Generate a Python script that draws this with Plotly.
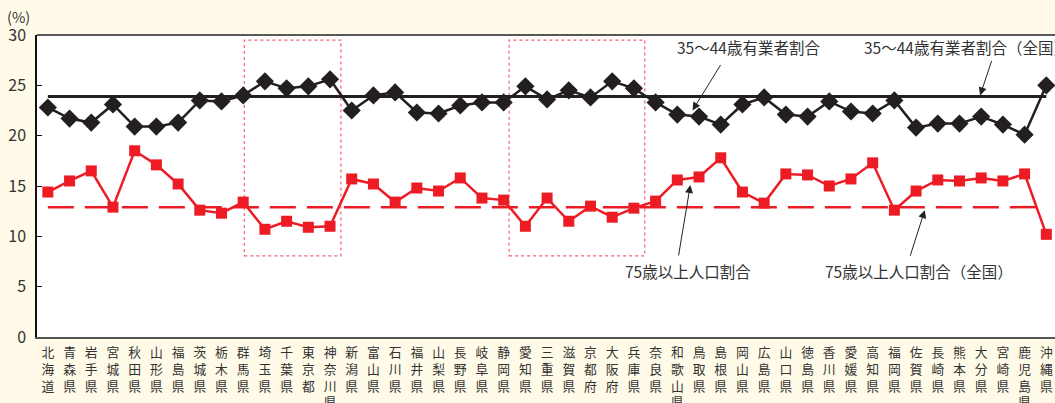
import plotly.graph_objects as go

prefectures = ["北海道","青森県","岩手県","宮城県","秋田県","山形県","福島県","茨城県","栃木県","群馬県",
               "埼玉県","千葉県","東京都","神奈川県","新潟県","富山県","石川県","福井県","山梨県","長野県",
               "岐阜県","静岡県","愛知県","三重県","滋賀県","京都府","大阪府","兵庫県","奈良県","和歌山県",
               "鳥取県","島根県","岡山県","広島県","山口県","徳島県","香川県","愛媛県","高知県","福岡県",
               "佐賀県","長崎県","熊本県","大分県","宮崎県","鹿児島県","沖縄県"]

workers_35_44 = [22.8,21.7,21.3,23.1,20.9,20.9,21.3,23.5,23.4,24.0,
                 25.4,24.7,24.9,25.6,22.5,24.0,24.3,22.3,22.2,23.0,
                 23.3,23.3,24.9,23.6,24.5,23.8,25.4,24.7,23.3,22.1,
                 21.9,21.1,23.1,23.8,22.1,21.9,23.4,22.4,22.2,23.5,
                 20.8,21.2,21.2,21.9,21.1,20.1,25.0]

aged_75 = [14.4,15.5,16.5,12.9,18.5,17.1,15.2,12.6,12.3,13.4,
           10.7,11.5,10.9,11.0,15.7,15.2,13.4,14.8,14.5,15.8,
           13.8,13.6,11.0,13.8,11.5,13.0,11.9,12.8,13.5,15.6,
           15.9,17.8,14.4,13.3,16.2,16.1,15.0,15.7,17.3,12.6,
           14.5,15.6,15.5,15.8,15.5,16.2,10.2]

national_workers = 23.9
national_aged = 12.9

y_ticks = [0, 5, 10, 15, 20, 25, 30]

RED = "#ed1c24"
BLACK = "#231f20"
TXT = "#333333"
FONT = "Noto Sans CJK JP"

idx = list(range(len(prefectures)))
tick_text = ["<br>".join(list(p)) for p in prefectures]

fig = go.Figure()

fig.add_trace(go.Scatter(x=idx, y=[national_aged]*len(idx), mode="lines",
                         line=dict(color=RED, width=2.5, dash="26px,11px"), hoverinfo="skip"))
fig.add_trace(go.Scatter(x=idx, y=[national_workers]*len(idx), mode="lines",
                         line=dict(color=BLACK, width=3), hoverinfo="skip"))
fig.add_trace(go.Scatter(x=idx, y=aged_75, mode="lines+markers",
                         line=dict(color=RED, width=2.5),
                         marker=dict(symbol="square", size=11, color=RED)))
fig.add_trace(go.Scatter(x=idx, y=workers_35_44, mode="lines+markers",
                         line=dict(color=BLACK, width=2.5),
                         marker=dict(symbol="diamond", size=14, color=BLACK)))

# dotted highlight boxes
for x0, x1 in [(9.05, 13.5), (21.25, 27.5)]:
    fig.add_shape(type="rect", xref="x", yref="y", x0=x0, x1=x1, y0=8.05, y1=29.5,
                  line=dict(color="#f4626e", width=1.2, dash="dot"), layer="below")

# top border line
fig.add_shape(type="line", xref="paper", yref="paper", x0=0, x1=1, y0=1, y1=1,
              line=dict(color="#222222", width=1.5))

ann_font = dict(family=FONT, size=15.5, color=TXT)
texts = [
    ("35～44歳有業者割合", 32.3, 28.8, "center"),
    ("35～44歳有業者割合（全国）", 37.5, 28.8, "left"),
    ("75歳以上人口割合", 26.5, 6.55, "left"),
    ("75歳以上人口割合（全国）", 35.7, 6.55, "left"),
]
for t, x, y, anc in texts:
    fig.add_annotation(text=t, x=x, y=y, xref="x", yref="y", showarrow=False,
                       xanchor=anc, yanchor="middle", font=ann_font)

arrows = [
    (29.7, 22.5, 29, -47),
    (42.95, 24.0, 12, -36),
    (29.6, 15.1, -12, 72),
    (40.4, 12.6, -15, 47),
]
for x, y, ax, ay in arrows:
    fig.add_annotation(text="", x=x, y=y, xref="x", yref="y", ax=ax, ay=ay,
                       showarrow=True, arrowhead=2, arrowsize=1.6, arrowwidth=1,
                       arrowcolor="#222222", standoff=0)

fig.add_annotation(text="(%)", x=-0.0185, y=1.062, xref="paper", yref="paper", showarrow=False,
                   xanchor="center", yanchor="middle",
                   font=dict(family=FONT, size=14.5, color=TXT))

fig.update_layout(
    width=1055, height=403,
    margin=dict(l=37, r=0, t=35, b=66, autoexpand=False),
    paper_bgcolor="#fffbe8",
    plot_bgcolor="#ffffff",
    showlegend=False,
    font=dict(family=FONT, color=TXT),
)
fig.update_xaxes(
    range=[-0.5, 46.4], automargin=False,
    tickmode="array", tickvals=idx, ticktext=tick_text,
    tickfont=dict(family=FONT, size=12.8, color=TXT),
    showgrid=False, zeroline=False, showline=True, linecolor="#555555", linewidth=2,
    ticks="", tickangle=0, ticklabelstandoff=3,
)
fig.update_yaxes(
    range=[0, 30], automargin=False, tickmode="array", tickvals=y_ticks,
    tickfont=dict(family=FONT, size=16, color=TXT),
    showgrid=False, zeroline=False, showline=True, linecolor="#111111", linewidth=1.5,
    ticks="inside", ticklen=5, tickcolor="#111111", ticklabelstandoff=6,
)

fig.write_html("out.html", config={"displayModeBar": False},
               post_script="document.body.style.margin='0';document.body.style.padding='0';"
                           "document.body.style.background='#fffbe8';")
